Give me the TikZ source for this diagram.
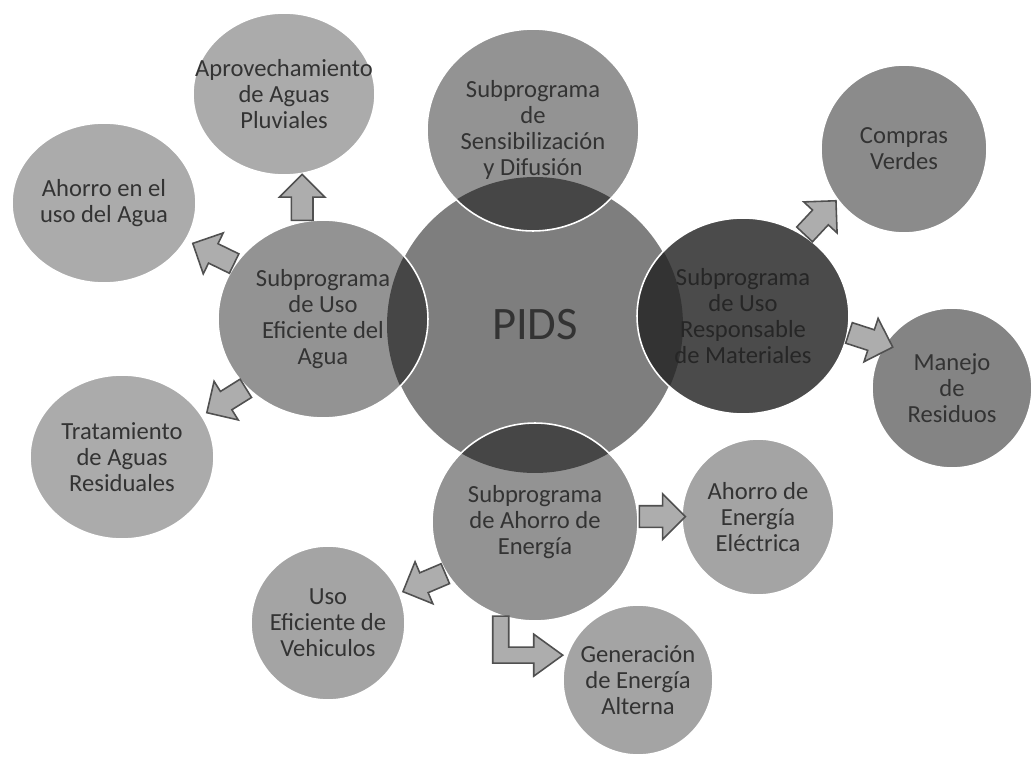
\documentclass[tikz,border=0pt]{standalone}
\usepackage{fontspec}
\setmainfont{Carlito}
\usetikzlibrary{shapes.geometric,shapes.arrows}

\definecolor{pidsfill}{HTML}{7E7E7E}
\definecolor{subfill}{HTML}{939393}
\definecolor{matfill}{HTML}{4B4B4B}
\definecolor{ovlfill}{HTML}{464646}
\definecolor{ovlmat}{HTML}{333333}
\definecolor{leaflight}{HTML}{ABABAB}
\definecolor{leafmid}{HTML}{A4A4A4}
\definecolor{leafdark}{HTML}{8B8B8B}
\definecolor{arrfill}{HTML}{ADADAD}
\definecolor{arrline}{HTML}{505050}
\definecolor{txtgray}{HTML}{333333}
\definecolor{mattext}{HTML}{262626}

\tikzset{
  blob/.style={ellipse, draw=white, line width=0.9pt, inner sep=0pt},
  ctext/.style={align=center, inner sep=0pt, text=txtgray,
    font=\fontsize{14}{14.7}\selectfont},
  overlap/.style={path picture={\fill[#1] (pids.center) circle [radius=2.96cm];}},
  blockarrow/.style={single arrow, draw=arrline, fill=arrfill, line width=0.9pt,
    inner xsep=0pt, inner ysep=0.2cm, minimum height=0.92cm,
    single arrow head extend=0.24cm, anchor=tail},
  bentarrow/.style={draw=arrline, fill=arrfill, line width=0.9pt, line join=miter}
}

\begin{document}
\begin{tikzpicture}[x=0.02cm, y=-0.02cm]
  \useasboundingbox (0,0) rectangle (1032,757);
  \node[blob, fill=pidsfill, minimum width=5.92cm, minimum height=5.92cm,
    label={[ctext, font=\fontsize{26.5}{30}\selectfont]center:PIDS}] (pids) at (535,325) {};
  \node[blob, fill=subfill, overlap=ovlfill, minimum width=4.24cm, minimum height=4.04cm,
    label={[ctext]center:{Subprograma\\de\\Sensibilización\\y Difusión}}] (sens) at (533,130) {};
  \node[blob, fill=subfill, overlap=ovlfill, minimum width=4.2cm, minimum height=3.96cm,
    label={[ctext]center:{Subprograma\\de Uso\\Eficiente del\\Agua}}] (agua) at (323,319) {};
  \node[blob, fill=matfill, overlap=ovlmat, minimum width=4.24cm, minimum height=3.92cm,
    label={[ctext, text=mattext]center:{Subprograma\\de Uso\\Responsable\\de Materiales}}] (mat) at (743,316) {};
  \node[blob, fill=subfill, overlap=ovlfill, minimum width=4.12cm, minimum height=3.96cm,
    label={[ctext]center:{Subprograma\\de Ahorro de\\Energía}}] (energia) at (535,522) {};

  \node[blob, fill=leaflight, minimum width=3.64cm, minimum height=3.24cm,
    label={[ctext]center:{Aprovechamiento\\de Aguas\\Pluviales}}] (aprov) at (284,94) {};
  \node[blob, fill=leaflight, minimum width=3.68cm, minimum height=3.2cm,
    label={[ctext]center:{Ahorro en el\\uso del Agua}}] (ahorro) at (104,203) {};
  \node[blob, fill=leaflight, minimum width=3.68cm, minimum height=3.28cm,
    label={[ctext]center:{Tratamiento\\de Aguas\\Residuales}}] (trat) at (122,457) {};
  \node[blob, fill=leafdark, minimum width=3.32cm, minimum height=3.36cm,
    label={[ctext]center:{Compras\\Verdes}}] (compras) at (904,149) {};
  \node[blob, fill=leafdark!95!black, minimum width=3.2cm, minimum height=3.2cm,
    label={[ctext]center:{Manejo\\de\\Residuos}}] (manejo) at (952,388) {};
  \node[blob, fill=leafmid, minimum width=3.04cm, minimum height=3.12cm,
    label={[ctext]center:{Ahorro de\\Energía\\Eléctrica}}] (electrica) at (758,517) {};
  \node[blob, fill=leafmid, minimum width=3.08cm, minimum height=3.08cm,
    label={[ctext]center:{Uso\\Eficiente de\\Vehiculos}}] (vehiculos) at (328,623) {};
  \node[blob, fill=leafmid, minimum width=3.0cm, minimum height=3.0cm,
    label={[ctext]center:{Generación\\de Energía\\Alterna}}] (generacion) at (638,680) {};

  \begin{scope}
    \node[blockarrow, rotate=90] (a1) at (agua.102) {};
    \node[blockarrow, rotate=154] (a2) at (agua.148) {};
    \node[blockarrow, rotate=212] (a3) at (agua.222) {};
    \node[blockarrow, rotate=47] (a4) at (mat.53) {};
    \node[blockarrow, rotate=-18] (a5) at (mat.-9) {};
    \node[blockarrow, rotate=0] (a6) at (energia.3) {};
    \node[blockarrow, rotate=203] (a7) at (energia.210) {};
    \draw[bentarrow] (energia.250) ++(-8,0) -- ++(0,47) -- ++(41,0) -- ++(0,13)
      -- ++(29,-21) -- ++(-29,-21) -- ++(0,13) -- ++(-25,0) -- ++(0,-31) -- cycle;
  \end{scope}
\end{tikzpicture}
\end{document}
